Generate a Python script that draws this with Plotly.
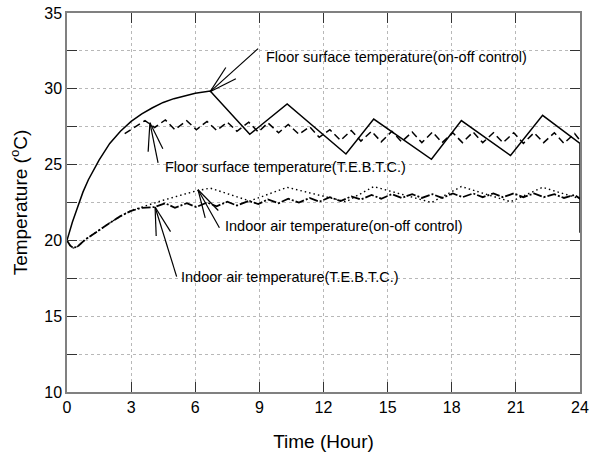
import math
import plotly.graph_objects as go

# ---------------- data ----------------
floor_onoff_t = [0, 0.25, 0.5, 0.75, 1.0, 1.5, 2.0, 2.5, 3.0, 3.5, 4.0, 4.5, 5.0, 5.5, 6.0, 6.7,
                 8.55, 10.3, 13.05, 14.35, 17.05, 18.45, 20.75, 22.25, 24.0, 24.0]
floor_onoff_v = [20.0, 21.2, 22.2, 23.2, 24.0, 25.3, 26.4, 27.2, 27.85, 28.35, 28.75, 29.1, 29.35, 29.55, 29.7, 29.85,
                 27.0, 29.0, 25.7, 28.0, 25.35, 27.9, 25.6, 28.25, 26.4, 20.5]

floor_tebtc_t = [2.7, 3.65, 4.1, 4.6, 5.05, 5.6, 6.05, 6.55, 7.0, 7.5, 7.95, 8.5, 8.95, 9.4, 9.9, 10.35,
                 10.85, 11.35, 11.8, 12.3, 12.8, 13.3, 13.75, 14.25, 14.7, 15.2, 15.65, 16.15, 16.6, 17.1,
                 17.55, 18.05, 18.5, 19.0, 19.45, 19.95, 20.4, 20.9, 21.35, 21.85, 22.3, 22.8, 23.25, 23.75, 24.0]
floor_tebtc_v = [27.05, 27.9, 27.45, 27.95, 27.3, 27.9, 27.3, 27.85, 27.25, 27.8, 27.2, 27.8, 27.15, 27.75, 27.1, 27.65,
                 27.0, 27.5, 26.8, 27.3, 26.6, 27.25, 26.55, 27.2, 26.5, 27.2, 26.5, 27.15, 26.45, 27.15,
                 26.45, 27.1, 26.45, 27.15, 26.45, 27.1, 26.45, 27.1, 26.4, 27.1, 26.45, 27.1, 26.4, 27.05, 26.6]

air_onoff_t = [0, 0.15, 0.3, 0.5, 0.85, 1.5, 2.0, 2.5, 3.0, 3.5, 4.0, 4.5, 5.0, 5.5, 6.0, 6.7,
               8.55, 10.3, 13.05, 14.35, 17.05, 18.45, 20.75, 22.25, 24.0]
air_onoff_v = [20.0, 19.65, 19.5, 19.6, 20.05, 20.7, 21.15, 21.6, 21.97, 22.2, 22.45, 22.65, 22.85, 23.05, 23.25, 23.45,
               22.6, 23.5, 22.55, 23.55, 22.5, 23.55, 22.55, 23.5, 22.75]

air_tebtc_t = [0, 0.15, 0.3, 0.5, 0.85, 1.5, 2.0, 2.5, 3.0, 3.5, 4.1, 4.6, 5.05, 5.6, 6.05, 6.55, 7.0, 7.5,
               7.95, 8.5, 8.95, 9.4, 9.9, 10.35, 10.85, 11.35, 11.8, 12.3, 12.8, 13.3, 13.75, 14.25, 14.7,
               15.2, 15.65, 16.15, 16.6, 17.1, 17.55, 18.05, 18.5, 19.0, 19.45, 19.95, 20.4, 20.9, 21.35,
               21.85, 22.3, 22.8, 23.25, 23.75, 24.0]
air_tebtc_v = [20.0, 19.65, 19.5, 19.6, 20.05, 20.7, 21.15, 21.6, 21.95, 22.15, 22.2, 22.45, 22.15, 22.45, 22.2, 22.5, 22.25, 22.55,
               22.3, 22.6, 22.4, 22.7, 22.45, 22.75, 22.5, 22.8, 22.55, 22.85, 22.6, 22.9, 22.7, 23.0, 22.75,
               23.05, 22.8, 23.05, 22.8, 23.05, 22.8, 23.1, 22.85, 23.1, 22.85, 23.1, 22.85, 23.1, 22.85,
               23.1, 22.85, 23.05, 22.8, 23.0, 22.75]

x_ticks = [0, 3, 6, 9, 12, 15, 18, 21, 24]
y_ticks = [10, 15, 20, 25, 30, 35]
y_minor_step = 2.5

labels = [
    "Floor surface temperature(on-off control)",
    "Floor surface temperature(T.E.B.T.C.)",
    "Indoor air temperature(on-off control)",
    "Indoor air temperature(T.E.B.T.C.)",
]
label_pos = [(9.22, 32.08), (4.48, 24.82), (7.31, 20.93), (5.25, 17.6)]
arrow_tip = [(6.69, 29.8), (3.88, 27.76), (6.13, 23.34), (4.12, 22.2)]
arrow_tail = [(8.94, 32.65), (4.26, 25.12), (7.13, 20.83), (5.13, 17.61)]

# ---------------- layout geometry ----------------
W, H = 590, 458
ML, MR, MT, MB = 67, 10, 13, 66
XR = (0, 24)
YR = (10, 35)
pw, ph = W - ML - MR, H - MT - MB
sx = pw / (XR[1] - XR[0])
sy = ph / (YR[1] - YR[0])

FONT = "Liberation Sans, Arial, Helvetica, sans-serif"

fig = go.Figure()
fig.add_trace(go.Scatter(x=floor_onoff_t, y=floor_onoff_v, mode='lines',
                         line=dict(color='black', width=1.5), showlegend=False))
fig.add_trace(go.Scatter(x=floor_tebtc_t, y=floor_tebtc_v, mode='lines',
                         line=dict(color='black', width=1.5, dash='7px,4px'), showlegend=False))
fig.add_trace(go.Scatter(x=air_onoff_t, y=air_onoff_v, mode='lines',
                         line=dict(color='black', width=1.4, dash='1.5px,3px'), showlegend=False))
fig.add_trace(go.Scatter(x=air_tebtc_t, y=air_tebtc_v, mode='lines',
                         line=dict(color='black', width=1.8, dash='9px,2px,2px,2px'), showlegend=False))

shapes = []
BARB_LEN = 29
BARB_ANG = math.radians(15)
for (tx, ty), (ax, ay) in zip(arrow_tip, arrow_tail):
    shapes.append(dict(type='line', xref='x', yref='y', x0=tx, y0=ty, x1=ax, y1=ay,
                       line=dict(color='black', width=1.2)))
    dxp = (ax - tx) * sx
    dyp = -(ay - ty) * sy
    ang = math.atan2(dyp, dxp)
    for s in (-1, 1):
        a = ang + s * BARB_ANG
        bx = tx + BARB_LEN * math.cos(a) / sx
        by = ty - BARB_LEN * math.sin(a) / sy
        shapes.append(dict(type='line', xref='x', yref='y', x0=tx, y0=ty, x1=bx, y1=by,
                           line=dict(color='black', width=1.2)))

annotations = []
for txt, (x, y) in zip(labels, label_pos):
    annotations.append(dict(x=x, y=y, xref='x', yref='y', text=txt, showarrow=False,
                            xanchor='left', yanchor='middle',
                            font=dict(family=FONT, size=14.5, color='black')))

axis_common = dict(showline=True, linecolor='#808080', linewidth=1.5, mirror='ticks',
                   ticks='inside', ticklen=10, tickwidth=1.3, tickcolor='#333333',
                   showgrid=True, gridcolor='#b8b8b8', gridwidth=1, griddash='dot',
                   zeroline=False, automargin=True,
                   tickfont=dict(family=FONT, size=16, color='black'))

fig.update_layout(
    width=W, height=H,
    margin=dict(l=ML, r=MR, t=MT, b=MB, autoexpand=False),
    paper_bgcolor='white', plot_bgcolor='white',
    font=dict(family=FONT, color='black'),
    shapes=shapes,
    annotations=annotations,
    xaxis=dict(range=list(XR), tickvals=x_ticks, ticktext=[str(v) for v in x_ticks],
               title=dict(text='Time (Hour)', font=dict(family=FONT, size=19, color='black'), standoff=20),
               **axis_common),
    yaxis=dict(range=list(YR), tickvals=y_ticks, ticktext=[str(v) for v in y_ticks],
               minor=dict(dtick=y_minor_step, tick0=10, ticks='inside', ticklen=10, tickwidth=1.3,
                          tickcolor='#333333', showgrid=True, gridcolor='#b8b8b8', gridwidth=1, griddash='dot'),
               title=dict(text='Temperature (<sup>o</sup>C)', font=dict(family=FONT, size=19, color='black'), standoff=12),
               **axis_common),
)

fig.write_html("out.html")
